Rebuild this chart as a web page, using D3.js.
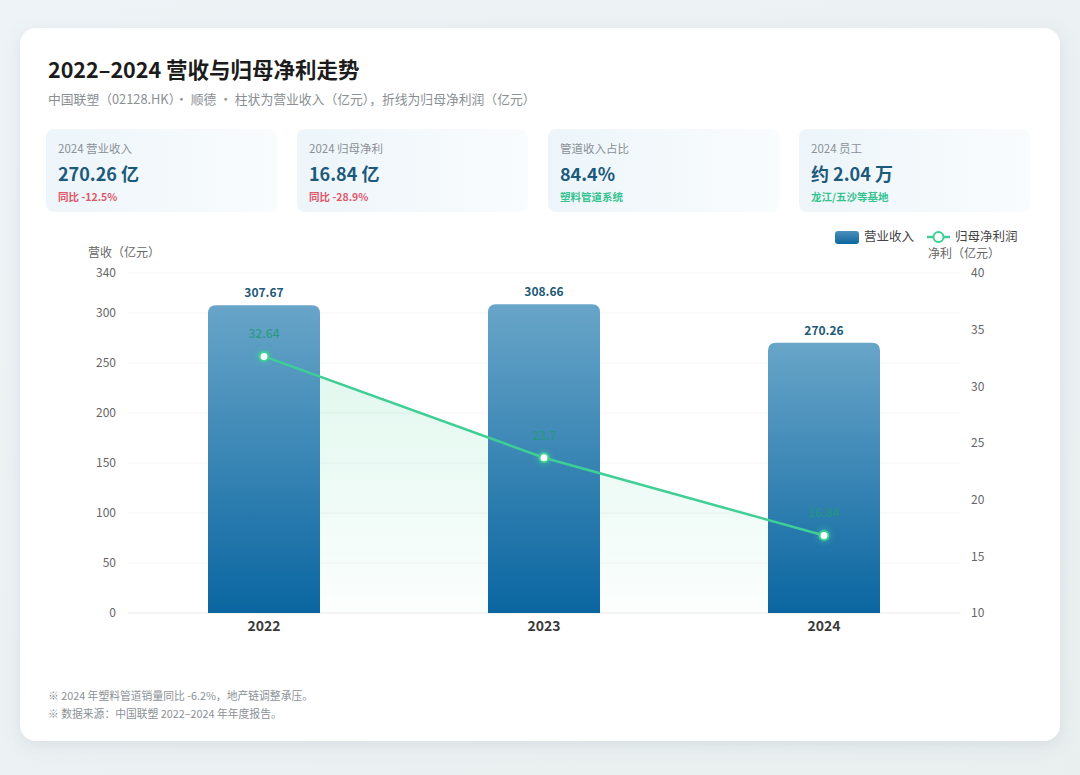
<!DOCTYPE html>
<html>
<head>
<meta charset="utf-8">
<script src="https://cdn.jsdelivr.net/npm/d3@7"></script>
<style>
  html, body { margin: 0; padding: 0; }
  body { width: 1080px; height: 775px; background: #eef2f5; font-family: "Noto Sans CJK SC", "Noto Sans", sans-serif; }
</style>
</head>
<body>
<script>
var w = 1080;
var h = 775;

// data
var years = ["2022", "2023", "2024"];
var revenue = [307.67, 308.66, 270.26];
var profit = [32.64, 23.7, 16.84];
var leftTicks = [0, 50, 100, 150, 200, 250, 300, 340];
var rightTicks = [10, 15, 20, 25, 30, 35, 40];

var kpiLabels = ["2024 营业收入", "2024 归母净利", "管道收入占比", "2024 员工"];
var kpiValues = ["270.26 亿", "16.84 亿", "84.4%", "约 2.04 万"];
var kpiNotes = ["同比 -12.5%", "同比 -28.9%", "塑料管道系统", "龙江/五沙等基地"];
var kpiNoteKind = ["down", "down", "info", "info"];

var notes = ["※ 2024 年塑料管道销量同比 -6.2%，地产链调整承压。", "※ 数据来源：中国联塑 2022–2024 年年度报告。"];

var svg = d3.select("body")
    .append("svg")
    .attr("width", w)
    .attr("height", h);

var defs = svg.append("defs");

var bg = defs.append("linearGradient").attr("id", "bg").attr("x1", 0).attr("y1", 0).attr("x2", 1).attr("y2", 1);
bg.append("stop").attr("offset", "0%").attr("stop-color", "#eef3f7");
bg.append("stop").attr("offset", "100%").attr("stop-color", "#e9eeee");

var shadow = defs.append("filter").attr("id", "shadow").attr("x", "-10%").attr("y", "-10%").attr("width", "120%").attr("height", "120%");
shadow.append("feDropShadow").attr("dx", 0).attr("dy", 4).attr("stdDeviation", 8).attr("flood-color", "#7890a0").attr("flood-opacity", 0.18);

var glow = defs.append("filter").attr("id", "glow").attr("x", "-100%").attr("y", "-100%").attr("width", "300%").attr("height", "300%");
glow.append("feDropShadow").attr("dx", 0).attr("dy", 0).attr("stdDeviation", 3).attr("flood-color", "#3ecf95").attr("flood-opacity", 0.8);

var kpiGrad = defs.append("linearGradient").attr("id", "kpi").attr("x1", 0).attr("y1", 0).attr("x2", 1).attr("y2", 0);
kpiGrad.append("stop").attr("offset", "0%").attr("stop-color", "#edf5fa");
kpiGrad.append("stop").attr("offset", "100%").attr("stop-color", "#f9fcfd");

var barGrad = defs.append("linearGradient").attr("id", "bar").attr("x1", 0).attr("y1", 0).attr("x2", 0).attr("y2", 1);
barGrad.append("stop").attr("offset", "0%").attr("stop-color", "#68a5c8");
barGrad.append("stop").attr("offset", "100%").attr("stop-color", "#0a66a1");

var areaGrad = defs.append("linearGradient").attr("id", "area").attr("x1", 0).attr("y1", 0).attr("x2", 0).attr("y2", 1);
areaGrad.append("stop").attr("offset", "0%").attr("stop-color", "#3ecf95").attr("stop-opacity", 0.16);
areaGrad.append("stop").attr("offset", "100%").attr("stop-color", "#3ecf95").attr("stop-opacity", 0.02);

var legendGrad = defs.append("linearGradient").attr("id", "legbar").attr("x1", 0).attr("y1", 0).attr("x2", 0).attr("y2", 1);
legendGrad.append("stop").attr("offset", "0%").attr("stop-color", "#4a8fba");
legendGrad.append("stop").attr("offset", "100%").attr("stop-color", "#0e66a0");

svg.append("rect").attr("width", w).attr("height", h).attr("fill", "url(#bg)");

// card
svg.append("rect")
    .attr("x", 20).attr("y", 28).attr("width", 1040).attr("height", 713)
    .attr("rx", 16).attr("fill", "#fff").attr("filter", "url(#shadow)");

// title
svg.append("text").text("2022–2024 营收与归母净利走势")
    .attr("x", 48).attr("y", 78)
    .attr("font-size", 21.5).attr("font-weight", 700).attr("fill", "#1c1c1c");
svg.append("text").text("中国联塑（02128.HK）· 顺德 · 柱状为营业收入（亿元），折线为归母净利润（亿元）")
    .attr("x", 48).attr("y", 104)
    .attr("font-size", 12.8).attr("fill", "#8a8f94");

// KPI cards
var kpi = svg.selectAll("g.kpi")
    .data(kpiLabels)
    .enter()
    .append("g")
    .attr("class", "kpi")
    .attr("transform", function (d, i) { return "translate(" + (46 + i * 251) + ",129)"; });

kpi.append("rect").attr("width", 231).attr("height", 83).attr("rx", 8).attr("fill", "url(#kpi)");
kpi.append("text").text(function (d) { return d; })
    .attr("x", 12).attr("y", 24).attr("font-size", 11.5).attr("fill", "#8a9096");
kpi.append("text").text(function (d, i) { return kpiValues[i]; })
    .attr("x", 12).attr("y", 52).attr("font-size", 18).attr("font-weight", 700).attr("fill", "#1c5a7c");
kpi.append("text").text(function (d, i) { return kpiNotes[i]; })
    .attr("x", 12).attr("y", 72).attr("font-size", 10.5).attr("font-weight", 700)
    .attr("fill", function (d, i) { return kpiNoteKind[i] == "down" ? "#e0566a" : "#36c38f"; });

// scales
var x = d3.scaleBand().domain(years).range([124, 964]).paddingInner(0.6).paddingOuter(0.3);
var yL = d3.scaleLinear().domain([0, 340]).range([613, 273]);
var yR = d3.scaleLinear().domain([10, 40]).range([613, 273]);

// grid
svg.append("g").selectAll("line")
    .data(leftTicks)
    .enter()
    .append("line")
    .attr("x1", 128).attr("x2", 960)
    .attr("y1", function (d) { return yL(d); })
    .attr("y2", function (d) { return yL(d); })
    .attr("stroke", function (d) { return d == 0 ? "#e6e9ec" : "#f3f4f5"; })
    .attr("stroke-width", 1);

// axes
var axL = svg.append("g").attr("transform", "translate(124,0)")
    .call(d3.axisLeft(yL).tickValues(leftTicks).tickSize(0).tickPadding(8));
var axR = svg.append("g").attr("transform", "translate(964,0)")
    .call(d3.axisRight(yR).tickValues(rightTicks).tickSize(0).tickPadding(7));
var axX = svg.append("g").attr("transform", "translate(0,613)")
    .call(d3.axisBottom(x).tickSize(0).tickPadding(8));
[axL, axR, axX].forEach(function (a) {
    a.select(".domain").remove();
    a.selectAll("text").attr("font-family", "Noto Sans CJK SC, Noto Sans, sans-serif");
});
axL.selectAll("text").attr("font-size", 12).attr("fill", "#666");
axR.selectAll("text").attr("font-size", 12).attr("fill", "#666");
axX.selectAll("text").attr("font-size", 14).attr("font-weight", 700).attr("fill", "#3a3a3a");

svg.append("text").text("营收（亿元）").attr("x", 88).attr("y", 257).attr("font-size", 12).attr("fill", "#666");
svg.append("text").text("净利（亿元）").attr("x", 928).attr("y", 258).attr("font-size", 12).attr("fill", "#666");

// area under profit line
var cx = function (d, i) { return x(years[i]) + x.bandwidth() / 2; };
var area = d3.area()
    .x(cx)
    .y0(yR(10))
    .y1(function (d) { return yR(d); });
svg.append("path").datum(profit).attr("d", area).attr("fill", "url(#area)");

// bars
svg.selectAll("path.bar")
    .data(revenue)
    .enter()
    .append("path")
    .attr("class", "bar")
    .attr("d", function (d, i) {
        var x0 = x(years[i]), bw = x.bandwidth(), y0 = yL(d), y1 = yL(0), r = 8;
        return "M" + x0 + "," + y1 + "V" + (y0 + r) + "Q" + x0 + "," + y0 + " " + (x0 + r) + "," + y0 +
            "H" + (x0 + bw - r) + "Q" + (x0 + bw) + "," + y0 + " " + (x0 + bw) + "," + (y0 + r) + "V" + y1 + "Z";
    })
    .attr("fill", "url(#bar)");

svg.selectAll("text.barlab")
    .data(revenue)
    .enter()
    .append("text")
    .attr("class", "barlab")
    .text(function (d) { return d.toFixed(2); })
    .attr("x", function (d, i) { return x(years[i]) + x.bandwidth() / 2; })
    .attr("y", function (d) { return yL(d) - 8; })
    .attr("text-anchor", "middle")
    .attr("font-size", 12).attr("font-weight", 700).attr("fill", "#1d5878");

// profit line
var line = d3.line().x(cx).y(function (d) { return yR(d); });
svg.append("path").datum(profit).attr("d", line)
    .attr("fill", "none").attr("stroke", "#3ecf95").attr("stroke-width", 2.5);

svg.selectAll("circle.pt")
    .data(profit)
    .enter()
    .append("circle")
    .attr("class", "pt")
    .attr("cx", cx)
    .attr("cy", function (d) { return yR(d); })
    .attr("r", 4.5)
    .attr("fill", "#fff").attr("stroke", "#3ecf95").attr("stroke-width", 2)
    .attr("filter", "url(#glow)");

svg.selectAll("text.ptlab")
    .data(profit)
    .enter()
    .append("text")
    .attr("class", "ptlab")
    .text(function (d) { return d; })
    .attr("x", cx)
    .attr("y", function (d) { return yR(d) - 18; })
    .attr("text-anchor", "middle")
    .attr("font-size", 12).attr("font-weight", 500).attr("fill", "#1f9a78").attr("fill-opacity", 0.85);

// legend
svg.append("rect").attr("x", 835).attr("y", 231).attr("width", 24).attr("height", 13).attr("rx", 3).attr("fill", "url(#legbar)");
svg.append("text").text("营业收入").attr("x", 864).attr("y", 241).attr("font-size", 12.5).attr("fill", "#444");
svg.append("line").attr("x1", 927).attr("x2", 950).attr("y1", 237).attr("y2", 237).attr("stroke", "#3ecf95").attr("stroke-width", 2.5);
svg.append("circle").attr("cx", 938.5).attr("cy", 237).attr("r", 5).attr("fill", "#fff").attr("stroke", "#3ecf95").attr("stroke-width", 2);
svg.append("text").text("归母净利润").attr("x", 955).attr("y", 241).attr("font-size", 12.5).attr("fill", "#444");

// footnotes
svg.selectAll("text.note")
    .data(notes)
    .enter()
    .append("text")
    .attr("class", "note")
    .text(function (d) { return d; })
    .attr("x", 48)
    .attr("y", function (d, i) { return 700 + i * 18; })
    .attr("font-size", 10.8).attr("fill", "#8c9196");
</script>
</body>
</html>
